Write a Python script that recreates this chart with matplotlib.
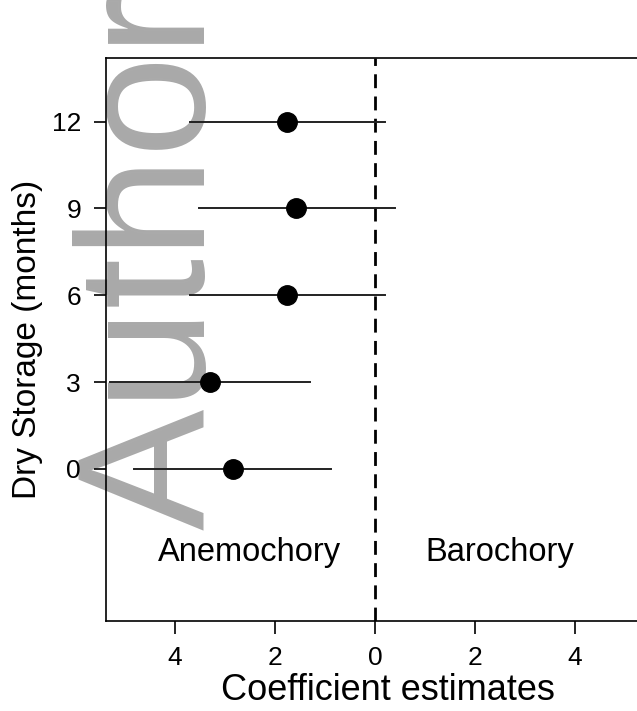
import matplotlib
matplotlib.use("Agg")
import matplotlib.pyplot as plt
import numpy as np

plt.rcParams['font.family'] = ['Liberation Sans', 'DejaVu Sans']

months = [12, 9, 6, 3, 0]
estimates = [-1.76, -1.58, -1.76, -3.30, -2.84]
ci_low = [-3.70, -3.52, -3.70, -5.30, -4.82]
ci_high = [0.20, 0.40, 0.20, -1.30, -0.88]
xticks = [-4, -2, 0, 2, 4]
xticklabels = ["4", "2", "0", "2", "4"]
yticks = [0, 3, 6, 9, 12]
group_labels = ["Anemochory", "Barochory"]
group_x = [-2.5, 2.5]

W, H = 637, 711
fig = plt.figure(figsize=(W / 100, H / 100), dpi=100)

# watermark
fig.text(205 / W, 1 - 530 / H, "Author", rotation=90, rotation_mode='anchor',
         ha='left', va='baseline', fontsize=131, color='#a9a9a9', zorder=-1)

ax = fig.add_axes([106 / W, 1 - 621 / H, 564 / W, 563 / H])
ax.set_facecolor('none')

for m, lo, hi in zip(months, ci_low, ci_high):
    ax.plot([lo, hi], [m, m], color='#222222', lw=1.4, zorder=2)
ax.plot(estimates, months, 'o', color='black', ms=14, zorder=3)
ax.axvline(0, color='black', lw=2, ls=(0, (5, 3)), zorder=1)

for lab, gx in zip(group_labels, group_x):
    ax.text(gx, -2.9, lab, ha='center', va='center', fontsize=23.5)

ax.set_xlim(-5.38, 5.9)
ax.set_ylim(-5.26, 14.2)
ax.set_xticks(xticks)
ax.set_xticklabels(xticklabels)
ax.set_yticks(yticks)
ax.tick_params(axis='both', direction='out', length=9, width=1.2, labelsize=19, colors='black')
ax.tick_params(axis='x', pad=9)
ax.tick_params(axis='y', pad=9)
for s in ['left', 'top', 'bottom']:
    ax.spines[s].set_linewidth(1.2)
ax.spines['right'].set_visible(False)

ax.set_xlabel("Coefficient estimates", fontsize=26, labelpad=2)
ax.set_ylabel("Dry Storage (months)", fontsize=24, labelpad=6)

fig.savefig("out.png", dpi=100)
